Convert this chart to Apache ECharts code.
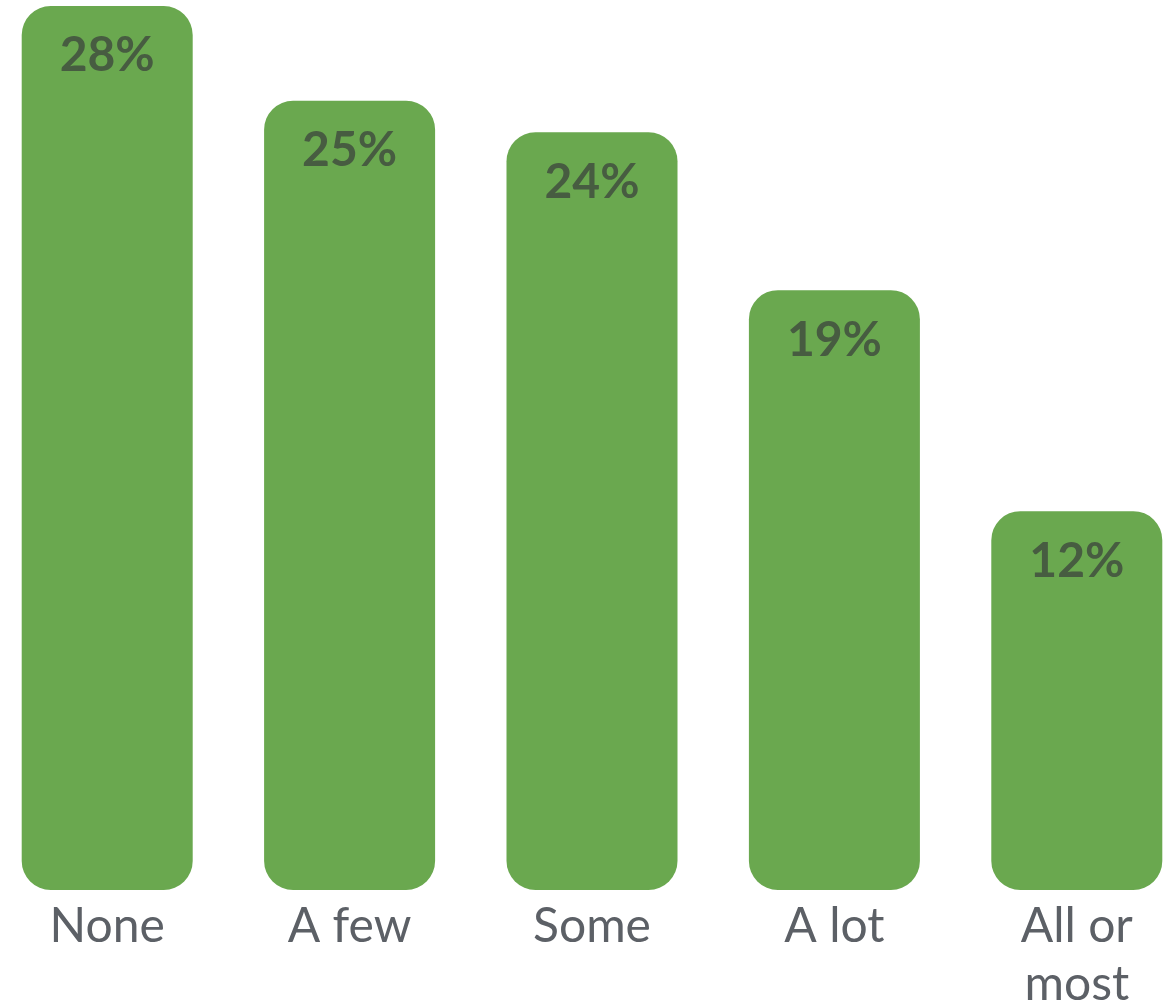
<!DOCTYPE html>
<html>
<head>
<meta charset="utf-8">
<script src="https://cdn.jsdelivr.net/npm/echarts@6/dist/echarts.min.js"></script>
<style>
html,body{margin:0;padding:0;background:#fff;overflow:hidden;}
#main{width:1175px;height:1008px;}
</style>
</head>
<body>
<div id="main"></div>
<script>
var categories = ['None', 'A few', 'Some', 'A lot', 'All or\nmost'];
var values = [28, 25, 24, 19, 12];

var chart = echarts.init(document.getElementById('main'), null, {renderer: 'canvas'});
chart.setOption({
  animation: false,
  backgroundColor: '#ffffff',
  grid: {left: -14, right: -23, top: 6, bottom: 118, containLabel: false, outerBoundsMode: 'none'},
  xAxis: {
    type: 'category',
    data: categories,
    axisLine: {show: false},
    axisTick: {show: false},
    axisLabel: {
      color: '#5c6066',
      fontFamily: 'Lato',
      fontSize: 48,
      lineHeight: 58,
      margin: 8,
      interval: 0
    }
  },
  yAxis: {
    type: 'value',
    min: 0,
    max: 28,
    show: false,
    splitLine: {show: false}
  },
  series: [{
    type: 'bar',
    data: values,
    barWidth: 171,
    itemStyle: {color: '#6aa84f', borderRadius: 29},
    label: {
      show: true,
      position: 'insideTop',
      distance: 26,
      formatter: '{c}%',
      color: '#475c41',
      fontFamily: 'Lato',
      fontWeight: 'bold',
      fontSize: 48,
      lineHeight: 48
    }
  }]
});
</script>
</body>
</html>
